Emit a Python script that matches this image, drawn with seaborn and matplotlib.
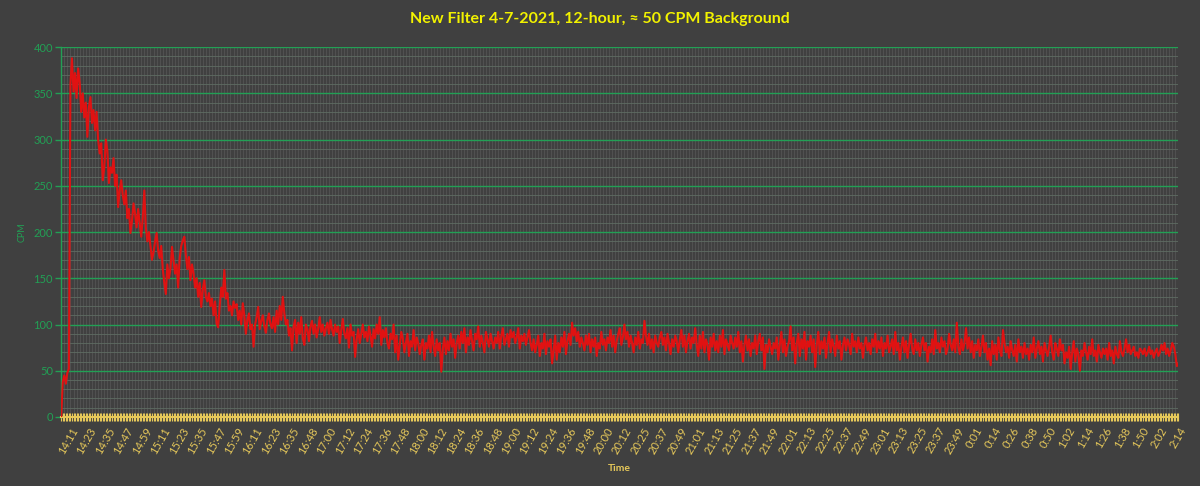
import numpy as np
import pandas as pd
import matplotlib
matplotlib.use('Agg')
import matplotlib.pyplot as plt
from matplotlib.ticker import MultipleLocator, FixedLocator
import seaborn as sns

title = 'New Filter 4-7-2021, 12-hour, \u2248 50 CPM Background'

time_labels = ['14:11', '14:23', '14:35', '14:47', '14:59', '15:11', '15:23', '15:35',
               '15:47', '15:59', '16:11', '16:23', '16:35', '16:48', '17:00', '17:12',
               '17:24', '17:36', '17:48', '18:00', '18:12', '18:24', '18:36', '18:48',
               '19:00', '19:12', '19:24', '19:36', '19:48', '20:00', '20:12', '20:25',
               '20:37', '20:49', '21:01', '21:13', '21:25', '21:37', '21:49', '22:01',
               '22:13', '22:25', '22:37', '22:49', '23:01', '23:13', '23:25', '23:37',
               '23:49', '0:01', '0:14', '0:26', '0:38', '0:50', '1:02', '1:14',
               '1:26', '1:38', '1:50', '2:02', '2:14']

# counts per minute, one row per 12-minute label step
cpm = [0, 38, 45, 36, 48, 52,
       360, 388, 352, 372, 345, 377, 362, 330, 350, 324, 340, 303,
       335, 346, 318, 332, 310, 330, 300, 285, 296, 256, 270, 300,
       288, 253, 270, 264, 280, 250, 262, 227, 245, 256, 240, 230,
       245, 215, 225, 199, 212, 231, 220, 205, 225, 210, 195, 215,
       245, 205, 190, 200, 185, 170, 178, 190, 199, 180, 172, 185,
       160, 145, 133, 165, 150, 160, 184, 170, 155, 165, 140, 172,
       185, 191, 195, 175, 160, 173, 148, 165, 155, 140, 150, 130,
       145, 119, 138, 148, 130, 125, 134, 120, 128, 110, 125, 101,
       97, 120, 140, 130, 159, 128, 134, 115, 120, 110, 125, 118,
       122, 105, 115, 100, 123, 110, 90, 105, 112, 95, 100, 76,
       100, 108, 119, 95, 104, 110, 98, 91, 105, 112, 100, 96,
       108, 92, 115, 100, 120, 105, 130, 112, 100, 105, 88, 96,
       72, 98, 105, 80, 102, 90, 108, 85, 78, 100, 95, 82,
       98, 104, 90, 100, 86, 95, 108, 92, 100, 88, 96, 102,
       90, 105, 95, 88, 100, 92, 98, 80, 94, 106, 90, 85,
       96, 75, 100, 88, 92, 65, 84, 95, 80, 90, 100, 86,
       92, 82, 98, 88, 76, 95, 85, 100, 90, 108, 78, 94,
       86, 96, 80, 74, 90, 84, 100, 70, 88, 62, 78, 92,
       85, 70, 80, 90, 66, 82, 76, 94, 72, 86, 80, 68,
       78, 84, 62, 80, 74, 88, 70, 92, 76, 66, 84, 72,
       80, 49, 74, 86, 68, 82, 72, 90, 76, 84, 64, 80,
       88, 74, 92, 80, 96, 70, 86, 78, 94, 82, 72, 90,
       84, 98, 76, 88, 80, 70, 92, 84, 76, 90, 82, 74,
       86, 80, 92, 74, 88, 96, 78, 84, 90, 76, 94, 86,
       92, 80, 86, 96, 74, 88, 82, 90, 78, 86, 94, 80,
       72, 84, 70, 78, 88, 66, 80, 74, 90, 68, 82, 76,
       84, 58, 72, 88, 62, 80, 70, 86, 76, 92, 68, 82,
       90, 78, 102, 88, 96, 82, 92, 76, 86, 80, 72, 88,
       78, 90, 70, 84, 76, 86, 66, 80, 74, 92, 78, 84,
       72, 86, 80, 94, 76, 88, 70, 82, 90, 96, 78, 86,
       100, 84, 92, 76, 88, 80, 70, 86, 78, 92, 74, 84,
       80, 104, 88, 78, 90, 74, 84, 70, 88, 80, 76, 86,
       92, 78, 86, 72, 90, 80, 68, 84, 76, 88, 82, 70,
       84, 94, 76, 88, 70, 82, 90, 74, 86, 80, 96, 78,
       66, 88, 74, 92, 70, 84, 78, 62, 86, 76, 90, 72,
       82, 70, 88, 76, 94, 68, 84, 78, 72, 88, 80, 74,
       86, 76, 92, 70, 82, 60, 78, 88, 72, 84, 66, 80,
       74, 88, 68, 82, 90, 72, 86, 52, 78, 70, 84, 76,
       68, 80, 74, 86, 62, 78, 92, 70, 84, 66, 76, 82,
       98, 72, 86, 58, 80, 90, 66, 84, 74, 92, 62, 82,
       76, 88, 70, 84, 54, 78, 92, 68, 82, 74, 86, 64,
       80, 92, 70, 84, 76, 66, 88, 74, 82, 62, 78, 86,
       72, 84, 78, 68, 90, 76, 82, 70, 86, 74, 80, 64,
       78, 86, 72, 80, 68, 84, 76, 90, 70, 82, 74, 86,
       66, 80, 74, 88, 70, 76, 84, 68, 92, 72, 80, 62,
       76, 86, 70, 82, 64, 78, 90, 74, 68, 84, 72, 80,
       66, 78, 86, 72, 80, 60, 76, 70, 84, 68, 94, 74,
       80, 70, 86, 76, 82, 68, 74, 90, 78, 72, 84, 70,
       102, 76, 68, 84, 72, 80, 96, 74, 86, 70, 82, 64,
       78, 72, 84, 66, 76, 88, 70, 80, 62, 74, 56, 82,
       68, 78, 62, 86, 72, 66, 94, 80, 70, 76, 64, 82,
       72, 66, 78, 60, 84, 70, 76, 64, 80, 68, 74, 62,
       78, 70, 86, 64, 74, 82, 68, 76, 60, 80, 72, 66,
       76, 88, 70, 62, 80, 74, 66, 84, 72, 78, 58, 70,
       64, 76, 52, 70, 82, 60, 74, 68, 50, 72, 66, 80,
       70, 62, 76, 68, 84, 66, 72, 60, 78, 70, 64, 74,
       68, 74, 62, 80, 66, 72, 58, 76, 68, 64, 82, 70,
       66, 74, 84, 70, 78, 68, 72, 76, 66, 70, 64, 74,
       72, 68, 74, 66, 70, 76, 68, 72, 64, 70, 74, 66,
       70, 78, 72, 80, 68, 74, 66, 72, 80, 76, 68, 55,
       58]

bg = '#404040'
green = '#22a055'
gold = '#e6c85a'
yellow = '#f2f200'

sns.set_theme(style='dark', rc={'axes.facecolor': bg, 'figure.facecolor': bg})
plt.rcParams['font.family'] = ['Lato', 'DejaVu Sans']

n = len(cpm)
first = 6  # index of the first labelled minute
df = pd.DataFrame({'t': np.arange(n), 'CPM': cpm})

fig = plt.figure(figsize=(12, 4.86), dpi=100)
ax = fig.add_axes([0.051, 0.142, 0.931, 0.761])
ax.set_facecolor(bg)
ax.set_axisbelow(True)

# fine vertical grid texture
ax.vlines(np.arange(0, n, 2), 0, 400, color='#545454', lw=0.6, zorder=0)

sns.lineplot(data=df, x='t', y='CPM', ax=ax, color='#e01212', linewidth=1.5, zorder=3)

ax.set_xlim(0, n - 1)
ax.set_ylim(0, 400)

ax.yaxis.set_major_locator(MultipleLocator(50))
ax.yaxis.set_minor_locator(MultipleLocator(10))
ax.grid(which='major', axis='y', color=green, lw=1.0)
ax.grid(which='minor', axis='y', color='#5e6c62', lw=0.6)
ax.grid(which='major', axis='x', visible=False)

ax.xaxis.set_major_locator(FixedLocator([first + 12 * k for k in range(len(time_labels))]))
ax.xaxis.set_minor_locator(MultipleLocator(1))
ax.set_xticklabels(time_labels, rotation=60, ha='right', rotation_mode='anchor',
                   color=gold, fontsize=8)
ax.tick_params(axis='x', which='both', direction='inout', length=6, width=0.8,
               color=gold, pad=3, bottom=True)
ax.tick_params(axis='y', which='major', length=4, width=1, color=green,
               labelcolor=green, labelsize=8, left=True, pad=2)
ax.tick_params(axis='y', which='minor', length=0)

for side in ['top', 'right']:
    ax.spines[side].set_visible(False)
ax.spines['left'].set_color(green)
ax.spines['left'].set_linewidth(1.0)
ax.spines['bottom'].set_color(gold)
ax.spines['bottom'].set_linewidth(1.5)

ax.set_xlabel('Time', color=gold, fontsize=7.5, fontweight='bold', labelpad=6)
ax.set_ylabel('CPM', color=green, fontsize=6.5, labelpad=5)
fig.suptitle(title, color=yellow, fontsize=11.5, fontweight='bold', y=0.975)

fig.savefig('out.png', dpi=100, facecolor=bg)
